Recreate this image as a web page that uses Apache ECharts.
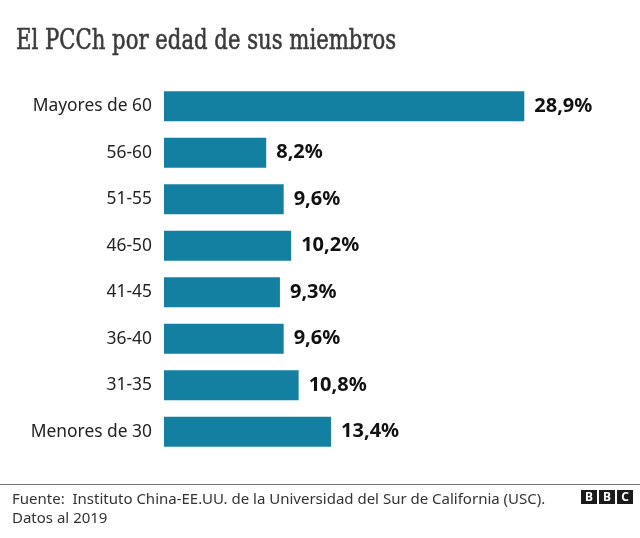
<!DOCTYPE html>
<html><head><meta charset="utf-8">
<script src="https://cdn.jsdelivr.net/npm/echarts@6/dist/echarts.min.js"></script>
<style>html,body{margin:0;padding:0;background:#fff}#c{width:640px;height:538px}</style>
</head><body><div id="c"></div>
<script>
var categories = ["Mayores de 60","56-60","51-55","46-50","41-45","36-40","31-35","Menores de 30"];
var values = [28.9, 8.2, 9.6, 10.2, 9.3, 9.6, 10.8, 13.4];
var title = "El PCCh por edad de sus miembros";
var source = "Fuente:  Instituto China-EE.UU. de la Universidad del Sur de California (USC).";
var note = "Datos al 2019";

var chart = echarts.init(document.getElementById('c'));
chart.setOption({
  animation: false,
  backgroundColor: '#fff',
  grid: {left: 164, right: 102, top: 83, bottom: 83, containLabel: false},
  xAxis: {type: 'value', min: 0, max: 30, show: false},
  yAxis: {type: 'category', data: categories, inverse: true,
    axisLine: {show: false}, axisTick: {show: false},
    axisLabel: {margin: 12, color: '#222', fontSize: 17.4, fontFamily: 'Noto Sans'}},
  series: [{type: 'bar', data: values, barWidth: 30,
    itemStyle: {color: '#1380A1'},
    label: {show: true, position: 'right', distance: 10,
      formatter: function(p){ return p.value.toFixed(1).replace('.', ',') + '%'; },
      color: '#111', fontSize: 20, fontWeight: 'bold', fontFamily: 'Noto Sans'}}],
  graphic: [
    {type: 'text', x: 16, y: 28, scaleX: 0.785, originX: 0,
      style: {text: title, font: '27px "DejaVu Serif"', fill: '#3a3a3a', stroke: '#3a3a3a', lineWidth: 0.6, verticalAlign: 'top'}},
    {type: 'line', shape: {x1: 0, y1: 484.5, x2: 640, y2: 484.5}, style: {stroke: '#777', lineWidth: 1}},
    {type: 'text', left: 12, top: 492, style: {text: source, font: '15px "Noto Sans"', fill: '#333'}},
    {type: 'text', left: 12, top: 511, style: {text: note, font: '15px "Noto Sans"', fill: '#333'}},
    {type: 'group', left: 581, top: 490, children: [
      {type: 'rect', shape: {x: 0, y: 0, width: 16, height: 14}, style: {fill: '#1a1a1a'}},
      {type: 'rect', shape: {x: 18, y: 0, width: 16, height: 14}, style: {fill: '#1a1a1a'}},
      {type: 'rect', shape: {x: 36, y: 0, width: 16, height: 14}, style: {fill: '#1a1a1a'}},
      {type: 'text', x: 8, y: 7.5, style: {text: 'B', font: 'bold 12px "Noto Sans"', fill: '#fff', align: 'center', verticalAlign: 'middle'}},
      {type: 'text', x: 26, y: 7.5, style: {text: 'B', font: 'bold 12px "Noto Sans"', fill: '#fff', align: 'center', verticalAlign: 'middle'}},
      {type: 'text', x: 44, y: 7.5, style: {text: 'C', font: 'bold 12px "Noto Sans"', fill: '#fff', align: 'center', verticalAlign: 'middle'}}
    ]}
  ]
});
</script></body></html>
